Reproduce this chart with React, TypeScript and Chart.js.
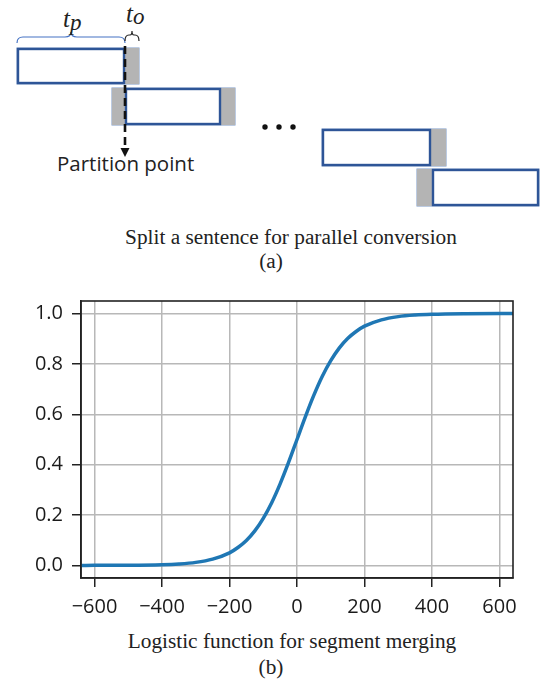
import React, { useEffect, useRef } from "react";
import { Chart, registerables } from "chart.js";

Chart.register(...registerables);

// Logistic curve values
const xValues = [-640, -600, -500, -400, -350, -300, -250, -200, -175, -150, -125, -100, -75, -50, -25, 0, 25, 50, 75, 100, 125, 150, 175, 200, 250, 300, 350, 400, 500, 600, 640];
const yValues = [0.0001, 0.0002, 0.0006, 0.0028, 0.0058, 0.012, 0.025, 0.05, 0.071, 0.099, 0.137, 0.187, 0.249, 0.324, 0.409, 0.5, 0.591, 0.676, 0.751, 0.813, 0.863, 0.901, 0.929, 0.95, 0.975, 0.988, 0.9942, 0.9972, 0.9994, 0.9999, 0.9999];
const xTicks = [-600, -400, -200, 0, 200, 400, 600];
const yTicks = [0, 0.2, 0.4, 0.6, 0.8, 1.0];

const captionA = "Split a sentence for parallel conversion";
const labelA = "(a)";
const captionB = "Logistic function for segment merging";
const labelB = "(b)";
const partitionText = "Partition point";

const TICK_FONT = "'Open Sans', 'Noto Sans', sans-serif";
const SERIF = "'Liberation Serif', 'Times New Roman', serif";

const framePlugin = {
  id: "frame",
  afterDraw(chart: any) {
    const { ctx, chartArea } = chart;
    ctx.save();
    ctx.strokeStyle = "#222";
    ctx.lineWidth = 1.6;
    ctx.strokeRect(chartArea.left, chartArea.top, chartArea.right - chartArea.left, chartArea.bottom - chartArea.top);
    ctx.restore();
  },
};

function Segment(props: { x: number; y: number; w: number; h: number; grayLeft?: number; grayRight?: number }) {
  const { x, y, w, h, grayLeft = 0, grayRight = 0 } = props;
  return (
    <g>
      <rect x={x} y={y} width={w} height={h} fill="#ffffff" stroke="#7a97c6" strokeWidth={1} />
      {grayLeft > 0 && <rect x={x} y={y} width={grayLeft} height={h} fill="#b4b4b4" />}
      {grayRight > 0 && <rect x={x + w - grayRight} y={y} width={grayRight} height={h} fill="#b4b4b4" />}
      <rect x={x + grayLeft + 1} y={y + 1} width={w - grayLeft - grayRight - 2} height={h - 2} fill="none" stroke="#2e5597" strokeWidth={2.4} />
    </g>
  );
}

function Diagram() {
  return (
    <svg width={540} height={280} style={{ position: "absolute", left: 0, top: 0 }}>
      {/* braces */}
      <path d="M17,43 Q17,37 23,37 L65,37 Q71,37 71,32 Q71,37 77,37 L119,37 Q125,37 125,43" fill="none" stroke="#4472c4" strokeWidth={1.2} />
      <path d="M125,41 Q125,35 129,35 L130,35 Q132,35 132,31 Q132,35 134,35 L135,35 Q139,35 139,41" fill="none" stroke="#222" strokeWidth={1.2} />
      <text x={63} y={27} fontFamily={SERIF} fontStyle="italic" fontSize={25} fill="#222">
        t<tspan dy={3} fontSize={23}>p</tspan>
      </text>
      <text x={126} y={22} fontFamily={SERIF} fontStyle="italic" fontSize={25} fill="#222">
        t<tspan dy={2} fontSize={23}>o</tspan>
      </text>
      <Segment x={17} y={48} w={122} h={36} grayRight={14} />
      <Segment x={112} y={88} w={123} h={37} grayLeft={13} grayRight={14} />
      <Segment x={322} y={129} w={124} h={37} grayRight={15} />
      <Segment x={417} y={169} w={122} h={37} grayLeft={15} />
      {/* partition line */}
      <line x1={125} y1={46} x2={125} y2={149} stroke="#111" strokeWidth={2.6} strokeDasharray="8,5" />
      <polygon points="120.5,148 129.5,148 125,157" fill="#111" />
      <circle cx={265} cy={127} r={2.7} fill="#111" />
      <circle cx={279} cy={127} r={2.7} fill="#111" />
      <circle cx={293} cy={127} r={2.7} fill="#111" />
      <text x={57} y={171} fontFamily={TICK_FONT} fontSize={20.5} fill="#222">{partitionText}</text>
    </svg>
  );
}

export default function App() {
  const canvasRef = useRef<HTMLCanvasElement | null>(null);

  useEffect(() => {
    if (!canvasRef.current) return;
    const chart = new Chart(canvasRef.current, {
      type: "line",
      data: {
        datasets: [
          {
            data: xValues.map((x, i) => ({ x, y: yValues[i] })),
            borderColor: "#1f77b4",
            borderWidth: 3.5,
            pointRadius: 0,
            cubicInterpolationMode: "monotone",
            fill: false,
          },
        ],
      },
      options: {
        animation: false,
        responsive: false,
        events: [],
        layout: { padding: { left: 0, right: 27, top: 7, bottom: 0 } },
        plugins: { legend: { display: false }, tooltip: { enabled: false } },
        scales: {
          x: {
            type: "linear",
            min: -640,
            max: 640,
            afterBuildTicks: (scale: any) => {
              scale.ticks = xTicks.map((v) => ({ value: v }));
            },
            afterFit: (scale: any) => {
              scale.height = 47;
            },
            grid: { color: "#b8b8b8", lineWidth: 1.5, tickColor: "#222", tickLength: 9, tickWidth: 1.5 },
            border: { display: true, color: "#222", width: 1.6 },
            ticks: {
              font: { family: TICK_FONT, size: 20 },
              color: "#1a1a1a",
              padding: 8,
              maxRotation: 0,
              autoSkip: false,
              callback: (v: any) => (Number(v) < 0 ? "\u2212" + Math.abs(Number(v)) : String(v)),
            },
          },
          y: {
            type: "linear",
            min: -0.05,
            max: 1.05,
            afterBuildTicks: (scale: any) => {
              scale.ticks = yTicks.map((v) => ({ value: v }));
            },
            afterFit: (scale: any) => {
              scale.width = 81;
            },
            grid: { color: "#b8b8b8", lineWidth: 1.5, tickColor: "#222", tickLength: 9, tickWidth: 1.5 },
            border: { display: true, color: "#222", width: 1.6 },
            ticks: {
              font: { family: TICK_FONT, size: 20 },
              color: "#1a1a1a",
              padding: 9,
              autoSkip: false,
              callback: (v: any) => Number(v).toFixed(1),
            },
          },
        },
      },
      plugins: [framePlugin],
    } as any);
    return () => chart.destroy();
  }, []);

  const cap: React.CSSProperties = {
    position: "absolute",
    fontFamily: SERIF,
    fontSize: 21.3,
    color: "#222",
    whiteSpace: "nowrap",
    transform: "translateX(-50%)",
    lineHeight: "24px",
  };

  return (
    <div style={{ position: "absolute", left: 0, top: 0, width: 540, height: 683, background: "#fff", overflow: "hidden" }}>
      <Diagram />
      <div style={{ ...cap, left: 291, top: 225 }}>{captionA}</div>
      <div style={{ ...cap, left: 271, top: 249 }}>{labelA}</div>
      <div style={{ position: "absolute", left: 0, top: 280, width: 540, height: 345 }}>
        <canvas ref={canvasRef} width={540} height={345} style={{ width: 540, height: 345 }} />
      </div>
      <div style={{ ...cap, left: 292, top: 629 }}>{captionB}</div>
      <div style={{ ...cap, left: 271, top: 655 }}>{labelB}</div>
    </div>
  );
}
